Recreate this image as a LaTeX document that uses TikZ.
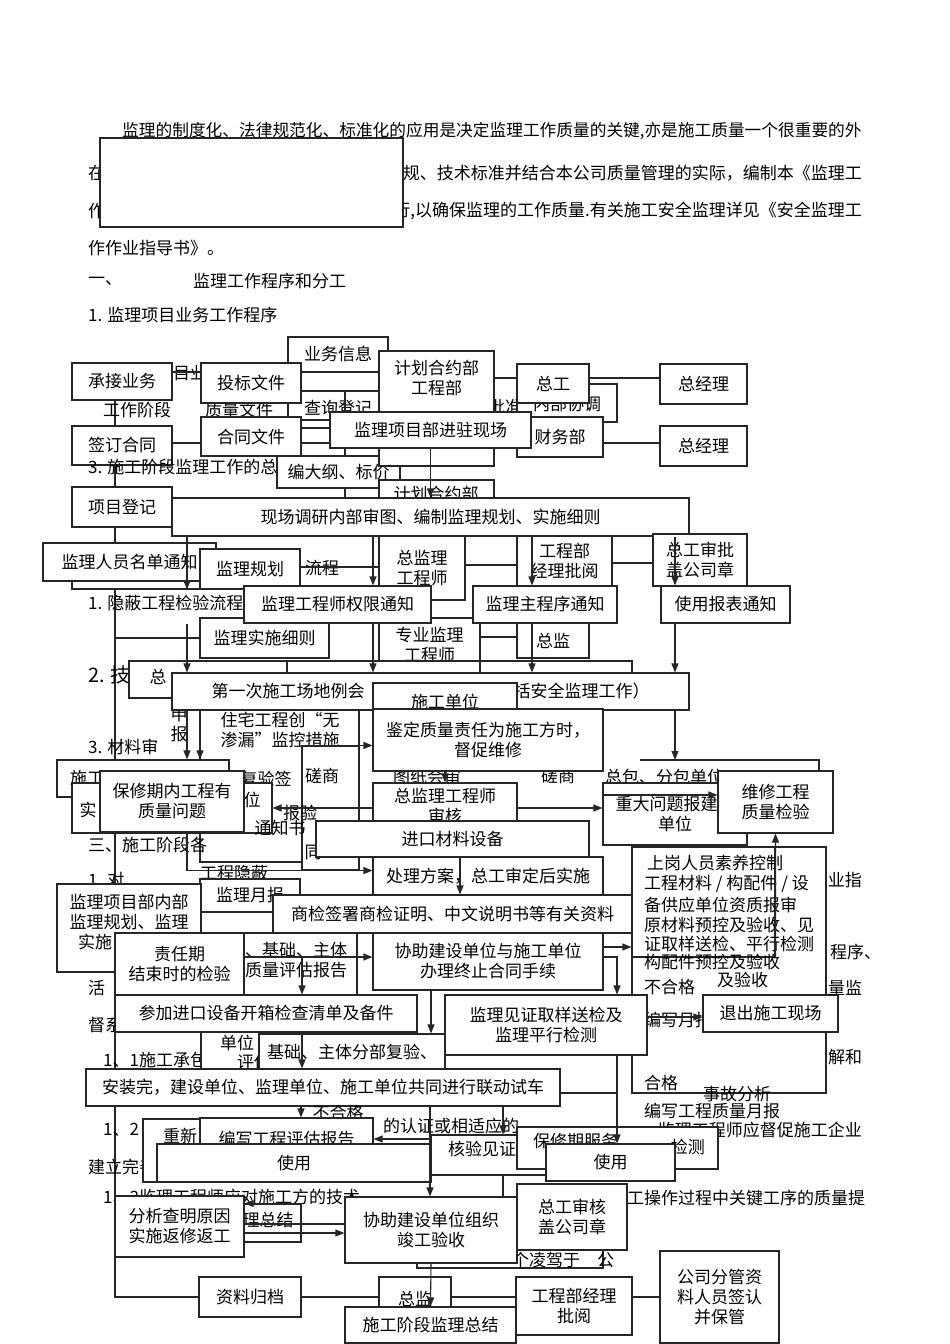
\documentclass[tikz,border=0pt]{standalone}
\usepackage{fontspec}
\setmainfont{Noto Sans CJK SC}
\usetikzlibrary{arrows.meta,positioning,calc}
\newcommand\cnf{\fontsize{17pt}{20pt}\selectfont}

\begin{document}
\begin{tikzpicture}[x=1pt,y=-1pt,
  box/.style={draw=black!85, line width=1.1pt, fill=white, inner sep=1pt, align=center, font=\cnf},
  txt/.style={inner sep=0pt, font=\cnf},
  ln/.style={draw=black!85, line width=1.1pt},
  arr/.style={ln, -{Triangle[length=9pt,width=7pt]}},
  sz/.style 2 args={minimum width=#1pt, minimum height=#2pt}]
\useasboundingbox (0,0) rectangle (950,1344);
\fill[white] (0,0) rectangle (950,1344);

% body text
\node[txt, anchor=west, font=\fontsize{16.7pt}{20pt}\selectfont] (p1) at (122,131) {监理的制度化、法律规范化、标准化的应用是决定监理工作质量的关键,亦是施工质量一个很重要的外};
\node[txt, anchor=west] (p2a) at (88,173) {在};
\node[txt, anchor=east] (p2b) at (862,173) {规、技术标准并结合本公司质量管理的实际，编制本《监理工};
\node[txt, anchor=west] (p3a) at (88,211) {作};
\node[txt, anchor=east] (p3b) at (862,211) {行,以确保监理的工作质量.有关施工安全监理详见《安全监理工};
\node[txt, anchor=west] (p4) at (88,248) {作作业指导书》。};
\node[txt, anchor=west] (p5a) at (88,281) {一、};
\node[txt, anchor=west] (p5b) at (193,281) {监理工作程序和分工};
\node[txt, anchor=west] (p6) at (88,315) {1. 监理项目业务工作程序};
\node[box, sz={303}{89}] (cover) at (251.5,182.5) {};

\coordinate (lx) at (115,0);
\coordinate (zbl) at (640,760);
\coordinate (zbr) at (819,760);
\coordinate (j957) at (302,957);
\coordinate (v617) at (617,1093);

% left column
\node[box, sz={100}{37}] (cjyw) at (122,381.5) {承接业务};
\node[box, sz={100}{39}] (qdht) at (122,445.5) {签订合同};
\node[box, sz={100}{40}] (xmdj) at (122,507) {项目登记};
\node[box, sz={102}{40}] (zlgd) at (250,1297) {资料归档};
\draw[ln] (cjyw.south -| lx) -- (qdht.north -| lx);
\draw[ln] (qdht.south -| lx) -- (xmdj.north -| lx);
\draw[ln] (xmdj.south -| lx) -- (lx |- zlgd.west) -- (zlgd.west);

\node[txt, anchor=west] (f1) at (173,373) {目业};
\node[txt, anchor=west] (f2) at (103,410) {工作阶段};
\node[txt, anchor=west] (f3) at (205,410) {质量文件};
\node[txt, anchor=west] (f4) at (88,467) {3. 施工阶段监理工作的总};

% top
\node[box, sz={100}{83}] (ywxx) at (338,378.5) {};
\node[txt] (ywxxt) at (338,354) {业务信息};
\node[txt] (cxdj) at (338,408) {查询登记};
\draw[ln] (345,391) -- (345,498);
\node[box, sz={123}{32}] (bdg) at (338.5,472) {编大纲、标价};
\node[box, sz={115}{50}] (jhhy2) at (436.5,505) {};
\node[txt] (jhhy2t) at (436,494) {计划合约部};
\node[txt] (pz) at (505,407) {批准};
\node[box, sz={100}{38}] (nbxt) at (567,403) {};
\node[txt] (nbxtt) at (567,404) {内部协调};
\node[box, sz={115}{115}] (jhhy) at (436.5,408.5) {};
\node[txt, align=center] (jhhyt) at (436.5,378) {计划合约部\\工程部};
\node[box, sz={100}{40}] (tbwj) at (251,383) {投标文件};
\node[box, sz={100}{39}] (htwj) at (251,436.5) {合同文件};
\node[box, sz={86}{40}] (cwb) at (560,437) {财务部};
\node[box, sz={72}{39}] (zg) at (553,383.5) {总工};
\node[box, sz={201}{36}] (jzxc) at (430.5,430) {监理项目部进驻现场};
\node[box, sz={87}{40}] (zjl1) at (703.5,384) {总经理};
\node[box, sz={87}{40}] (zjl2) at (703.5,446) {总经理};
\node[box, sz={517}{38}] (xcdy) at (430.5,517) {现场调研内部审图、编制监理规划、实施细则};
\draw[ln] (cjyw.east |- 0,372) -- (tbwj.west |- 0,372);
\draw[ln] (tbwj.east |- 0,372) -- (jhhy.west |- 0,372);
\draw[ln] (tbwj.east |- 0,391) -- (jhhy.west |- 0,391);
\draw[ln] (qdht.east |- 0,443) -- (htwj.west |- 0,443);
\draw[ln] (htwj.east |- 0,428) -- (jzxc.west |- 0,428);
\draw[ln] (htwj.east |- 0,443) -- (jzxc.west |- 0,443);
\draw[ln] (jhhy.east |- 0,378) -- (zg.west |- 0,378);
\draw[ln] (zg.east |- 0,378) -- (zjl1.west |- 0,378);
\draw[ln] (cwb.east |- 0,443) -- (zjl2.west |- 0,443);

% notices
\node[box, sz={128}{29}] (mdbk) at (136,574.5) {};
\node[box, sz={173}{38}] (rymd) at (129.5,562) {监理人员名单通知};
\node[box, sz={100}{40}] (jlgh) at (250,569) {监理规划};
\node[txt] (lc) at (322,568) {流程};
\node[txt, anchor=west] (yb) at (88,603) {1. 隐蔽工程检验流程};
\node[box, sz={86}{64}] (zjlg) at (422,568) {总监理\\工程师};
\node[box, sz={95}{50}] (gcbpy) at (564.5,561) {工程部\\经理批阅};
\node[box, sz={94}{52}] (zgsp) at (700,560) {总工审批\\盖公司章};
\draw[ln] (jlgh.east |- 0,567) -- (zjlg.west |- 0,567);
\draw[ln] (zjlg.east |- 0,565) -- (gcbpy.west |- 0,565);
\draw[ln] (gcbpy.east |- 0,563) -- (zgsp.west |- 0,563);
\node[box, sz={129}{40}] (ssxz) at (264.5,638) {监理实施细则};
\node[box, sz={101}{55}] (zyjl) at (429.5,645.5) {专业监理\\工程师};
\node[box, sz={72}{35}] (zj1) at (553,640.5) {总监};
\node[box, sz={187}{37}] (qxtz) at (337.5,604.5) {监理工程师权限通知};
\node[box, sz={144}{37}] (zcxtz) at (545,604.5) {监理主程序通知};
\node[box, sz={129}{37}] (sybb) at (725.5,604.5) {使用报表通知};
\draw[ln] (lx |- ssxz.west) -- (ssxz.west);
\draw[ln] (zyjl.east |- 0,637) -- (zj1.west |- 0,637);

% first meeting
\node[txt, anchor=west, font=\fontsize{20pt}{22pt}\selectfont] (js) at (88,675) {2. 技};
\node[box, sz={158}{37}] (zbys) at (208,679.5) {};
\node[txt] (zbyst) at (158,677) {总};
\node[box, sz={193}{39}] (htbk) at (383.5,680.5) {};
\node[box, sz={152}{39}] (sgbk) at (556,680.5) {};
\node[txt, align=center] (sbt) at (179,724) {申\\报};
\node[box, sz={517}{37}] (dyc) at (430.5,691.5) {第一次施工场地例会\hspace{149pt}括安全监理工作）};
\node[box, sz={144}{37}] (sgdw) at (445,701.5) {施工单位};
\node[box, sz={159}{152}] (zzbk) at (279.5,786) {};
\node[txt, align=center] (zzt) at (280,730) {住宅工程创“无\\渗漏”监控措施};
\node[txt, anchor=west] (clsh) at (88,747) {3. 材料审};
\node[txt] (fyq) at (266,779) {复验签};
\node[box, sz={172}{37}] (sg) at (143,778.5) {};
\node[txt] (sgt) at (87,778) {施工};
\node[box, sz={200}{50}] (sbk) at (172,808) {};
\node[txt] (shi) at (88,810) {实};
\node[txt] (wei) at (252,800) {位};
\node[txt, anchor=west] (sgjd) at (88,845) {三、施工阶段各};
\node[box, sz={144}{61}] (bxwt) at (172,801.5) {保修期内工程有\\质量问题};
\node[box, sz={57}{124}] (csk) at (330.5,808) {};
\node[txt] (cst) at (322,776) {磋商};
\node[txt] (by) at (300,813) {报验};
\node[txt] (tzs) at (280,828) {通知书};
\node[txt] (tong) at (313,852) {同};
\node[txt] (gcyb) at (234,873) {工程隐蔽};
\draw[ln] (sbk.south -| 187,0) |- (csk.south west);
\node[txt] (tzhs) at (427,777) {图纸会审};
\node[txt] (cs2) at (558,776) {磋商};
\node[txt, anchor=west] (zbfb) at (605,777) {总包、分包单位};
\draw[ln] (zbl) -- (zbr) -- (zbr |- 0,771);
\node[box, sz={230}{62}] (jdzl) at (488,740) {鉴定质量责任为施工方时，\\督促维修};
\node[box, sz={144}{47}] (zjsh) at (445,806.5) {总监理工程师\\审核};
\node[box, sz={273}{36}] (jkcl) at (452.5,839) {进口材料设备};
\node[box, sz={230}{38}] (clfa) at (488,876) {处理方案，总工审定后实施};
\node[box, sz={144}{62}] (zdwt) at (675,814) {重大问题报建设\\单位};
\node[box, sz={115}{62}] (wx) at (775.5,802) {维修工程\\质量检验};

% quality control block
\node[box, sz={194}{246}] (sgout) at (729,970) {};
\node[box, sz={143}{110}] (sgin) at (703.5,902) {};
\node[txt, anchor=west] (sg1) at (647,863) {上岗人员素养控制};
\node[txt, anchor=west] (sg2) at (644,884) {工程材料 / 构配件 / 设};
\node[txt, anchor=west] (sg3) at (644,905) {备供应单位资质报审};
\node[txt, anchor=west] (sg4) at (644,925) {原材料预控及验收、见};
\node[txt, anchor=west] (sg5) at (644,944) {证取样送检、平行检测};
\node[txt, anchor=west] (sg6) at (644,962) {构配件预控及验收};
\node[txt, anchor=west] (bhg) at (644,987) {不合格};
\node[txt, anchor=west] (jys) at (717,980) {及验收};
\node[txt, anchor=west] (bxyb) at (644,1020) {编写月报};
\node[txt, anchor=west] (hg) at (644,1083) {合格};
\node[txt, anchor=west] (sgfx) at (703,1094) {事故分析};
\node[txt, anchor=west] (gczl) at (644,1111) {编写工程质量月报};
\node[box, sz={135}{37}] (tc) at (770.5,1013.5) {退出施工现场};
\node[txt, anchor=east] (r1) at (862,880) {业指};
\node[txt, anchor=west] (r2) at (830,952) {程序、};
\node[txt, anchor=west] (r3) at (828,988) {量监};
\node[txt, anchor=west] (r4) at (828,1057) {解和};

% imported equipment
\node[txt, anchor=west] (l1) at (88,880) {1. 对};
\node[txt, anchor=west] (l2) at (88,988) {活};
\node[txt, anchor=west] (l3) at (88,1025) {督系};
\node[txt, anchor=west] (l4) at (103,1060) {1、1施工承包};
\node[box, sz={100}{33}] (jlyb) at (250,895.5) {监理月报};
\node[box, sz={144}{88}] (jlnb) at (129,928) {};
\node[txt, align=center] (jlnbt) at (129,922) {监理项目部内部\\监理规划、监理\\\makebox[102pt][l]{实施}};
\node[box, sz={359}{38}] (sj) at (452.5,914) {商检签署商检证明、中文说明书等有关资料};
\node[box, sz={113}{62}] (jcbk) at (300.5,964) {};
\node[txt] (jczt) at (296,950) {、基础、主体};
\node[txt] (zlpg) at (296,970) {质量评估报告};
\node[box, sz={129}{62}] (zrq) at (179.5,964) {责任期\\结束时的检验};
\node[box, sz={230}{57}] (xzjs) at (488,961.5) {协助建设单位与施工单位\\办理终止合同手续};
\node[box, sz={302}{37}] (cj) at (266,1013.5) {参加进口设备开箱检查清单及备件};
\node[box, sz={202}{60}] (jlj) at (546,1025) {监理见证取样送检及\\监理平行检测};
\node[box, sz={58}{37}] (dwpg) at (230,1050.5) {};
\node[txt] (dw) at (237,1043) {单位};
\node[txt, anchor=west] (pg) at (237,1062) {评估};
\node[box, sz={186}{35}] (jc) at (352,1051.5) {基础、主体分部复验、};
\node[box, sz={474}{37}] (azw) at (323,1087.5) {安装完，建设单位、监理单位、施工单位共同进行联动试车};
\node[txt] (bhg2) at (338,1113) {不合格};

% completion
\node[txt, anchor=west] (l5) at (103,1130) {1、2};
\node[txt, anchor=west] (l6) at (88,1167) {建立完善};
\node[txt, anchor=west] (l7) at (103,1197) {1、3监理工程师应对施工方的技术};
\node[txt, anchor=west] (l8) at (627,1198) {工操作过程中关键工序的质量提};
\node[txt, anchor=west] (rz) at (383,1126) {的认证或相适应的};
\node[txt, anchor=east] (dc) at (862,1130) {监理工程师应督促施工企业};
\node[box, sz={186}{63}] (cxbk) at (236,1150.5) {};
\node[txt] (cx) at (180,1136) {重新};
\node[box, sz={173}{42}] (bx) at (286.5,1139) {编写工程评估报告};
\node[box, sz={115}{40}] (hy) at (488.5,1155) {};
\node[txt] (hyt) at (482,1149) {核验见证};
\node[box, sz={201}{42}] (bxq) at (617.5,1148) {};
\node[txt, anchor=west] (bxqt) at (533,1141) {保修期服务};
\node[txt, anchor=east] (jct) at (705,1147) {检测};
\node[box, sz={274}{38}] (syl) at (294,1163) {使用};
\node[box, sz={129}{37}] (syr) at (610.5,1162.5) {使用};
\node[box, sz={57}{38}] (lzj) at (272.5,1223) {};
\node[txt] (lzjt) at (268,1220) {理总结};
\node[box, sz={129}{61}] (fx) at (179.5,1226.5) {分析查明原因\\实施返修返工};
\node[box, sz={186}{28}] (lj) at (510,1254) {};
\node[txt, anchor=west] (ljt) at (512,1260) {个凌驾于　公};
\node[box, sz={172}{66}] (xzjg) at (431,1230) {协助建设单位组织\\竣工验收};
\node[box, sz={110}{66}] (zgsh) at (572,1217) {总工审核\\盖公司章};
\node[box, sz={72}{43}] (zj3) at (415,1298.5) {总监};
\node[box, sz={171}{36}] (sgzj) at (430.5,1325) {施工阶段监理总结};
\node[box, sz={116}{58}] (gcb2) at (574,1306) {工程部经理\\批阅};
\node[box, sz={119}{92}] (gsfg) at (719.5,1297) {公司分管资\\料人员签认\\并保管};
\draw[ln] (zlgd.east) -- (zj3.west |- zlgd.east);
\draw[ln] (zj3.east |- zlgd.east) -- (gcb2.west |- zlgd.east);
\draw[ln] (gcb2.east |- zlgd.east) -- (gsfg.west |- zlgd.east);

% arrows
\draw[arr] (jzxc.south) -- (xcdy.north);
\draw[arr] (xcdy.south -| 187,0) -- (mdbk.south -| 187,0);
\draw[arr] (xcdy.south -| 373,0) -- (qxtz.north -| 373,0);
\draw[arr] (xcdy.south -| 532,0) -- (zcxtz.north -| 532,0);
\draw[arr] (xcdy.south -| 675,0) -- (sybb.north -| 675,0);
\draw[arr] (qxtz.south -| 187,0) -- (dyc.north -| 187,0);
\draw[arr] (qxtz.south -| 373,0) -- (dyc.north -| 373,0);
\draw[arr] (zcxtz.south -| 532,0) -- (dyc.north -| 532,0);
\draw[arr] (sybb.south -| 675,0) -- (dyc.north -| 675,0);
\draw[arr] (dyc.south -| 675,0) -- (zbl -| 675,0);
\draw[arr] (dyc.south -| 187,0) -- (sg.north -| 187,0);
\draw[arr] (dyc.south -| 200,0) -- (sg.north -| 200,0);
\draw[arr] (csk.north west) -- (jdzl.west |- csk.north west);
\draw[arr] (zjsh.west |- 0,808) -- (sbk.east |- 0,808);
\draw[arr] (jdzl.south -| 445,0) -- (zjsh.north -| 445,0);
\draw[arr] (zjsh.east |- 0,808) -- (zdwt.west |- 0,808);
\draw[arr] (zdwt.west |- 0,795) -- (wx.west |- 0,795);
\draw[arr] (sgin.south east) -- (wx.south);
\draw[arr] (jkcl.south -| 460,0) -- (sj.north -| 460,0);
\draw[arr] (csk.south west) -- (clfa.west |- csk.south west);
\draw[arr] (xzjs.east |- 0,947) -- (sgout.west |- 0,947);
\draw[arr] (zrq.east |- 0,957) -- (xzjs.west |- 0,957);
\draw[arr] (j957) -- (cj.north -| j957);
\draw[arr] (xzjs.south -| 431,0) -- (jc.north -| 431,0);
\draw[arr] (xzjs.east |- 0,957) -| (jlj.north -| 617,0);
\draw[arr] (jlj.south -| 617,0) -- (syr.north -| 617,0);
\draw[ln] (azw.east |- v617) -- (v617);
\draw[arr] (jlj.east |- 0,1017) -- (tc.west |- 0,1017);
\draw[arr] (cj.south -| 302,0) -- (azw.north -| 302,0);
\draw[arr] (azw.south -| 301,0) -- (bx.north -| 301,0);
\draw[arr] (azw.south -| 503,0) -- (hy.north -| 503,0);
\draw[arr] (azw.south -| 430,0) -- (xzjg.north -| 430,0);
\draw[arr] (hy.west |- 0,1139) -- (bx.east |- 0,1139);
\draw[ln] (hy.south -| 503,0) -- (xzjg.north -| 503,0);
\draw[arr] (lzj.north east) -- (fx.east |- lzj.north east);
\draw[ln] (fx.east |- 0,1224) -- (xzjg.west |- 0,1224);
\draw[arr] (fx.east |- 0,1233) -- (xzjg.west |- 0,1233);
\draw[arr] (xzjg.south) -- (sgzj.north);
\end{tikzpicture}
\end{document}
